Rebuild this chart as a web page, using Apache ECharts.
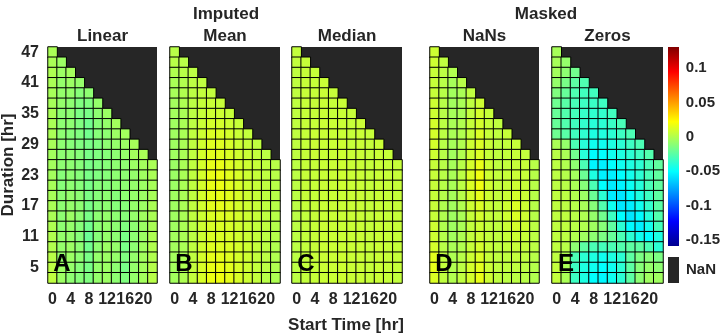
<!DOCTYPE html>
<html>
<head>
<meta charset="utf-8">
<script src="https://cdn.jsdelivr.net/npm/echarts@6/dist/echarts.min.js"></script>
<style>
  html, body { margin: 0; padding: 0; background: #fff; }
  #chart { width: 723px; height: 335px; }
</style>
</head>
<body>
<div id="chart"></div>
<script>
// start time columns (hr) and duration rows (hr), bottom row first
const startTimes = ['0', '2', '4', '6', '8', '10', '12', '14', '16', '18', '20', '22']
const durations = ['3', '5', '7', '9', '11', '13', '15', '17', '19', '21', '23', '25',
  '27', '29', '31', '33', '35', '37', '39', '41', '43', '45', '47']
const colorbarTicks = [-0.15, -0.1, -0.05, 0, 0.05, 0.1]
const colorMin = -0.159
const colorMax = 0.131

// cell values, rows listed from top (duration 47) to bottom (duration 3),
// only the cells that exist (start + duration <= 48)
const linearVals = [
  [-0.002],
  [-0.002, -0.006],
  [-0.001, -0.006, -0.004],
  [-0.002, -0.008, -0.006, -0.008],
  [-0.003, -0.008, -0.008, -0.012, -0.010],
  [-0.003, -0.008, -0.010, -0.014, -0.014, -0.008],
  [-0.002, -0.010, -0.010, -0.015, -0.016, -0.010, -0.006],
  [-0.002, -0.010, -0.010, -0.014, -0.018, -0.012, -0.008, -0.004],
  [-0.002, -0.010, -0.012, -0.014, -0.018, -0.012, -0.010, -0.006, -0.004],
  [-0.003, -0.010, -0.012, -0.014, -0.016, -0.014, -0.010, -0.008, -0.006, -0.003],
  [-0.004, -0.010, -0.010, -0.012, -0.016, -0.014, -0.012, -0.010, -0.008, -0.004, -0.002],
  [-0.004, -0.010, -0.010, -0.012, -0.016, -0.014, -0.012, -0.010, -0.010, -0.006, -0.004, -0.002],
  [-0.004, -0.012, -0.010, -0.012, -0.016, -0.014, -0.012, -0.010, -0.010, -0.008, -0.005, -0.002],
  [-0.003, -0.012, -0.010, -0.012, -0.016, -0.012, -0.012, -0.010, -0.010, -0.008, -0.006, -0.003],
  [-0.003, -0.010, -0.008, -0.010, -0.015, -0.012, -0.010, -0.012, -0.010, -0.008, -0.006, -0.003],
  [-0.002, -0.010, -0.008, -0.010, -0.016, -0.012, -0.010, -0.012, -0.012, -0.008, -0.006, -0.002],
  [-0.002, -0.010, -0.006, -0.010, -0.016, -0.010, -0.008, -0.010, -0.012, -0.008, -0.005, -0.002],
  [-0.001, -0.010, -0.008, -0.012, -0.018, -0.010, -0.008, -0.010, -0.014, -0.010, -0.006, -0.002],
  [0.000, -0.008, -0.008, -0.012, -0.020, -0.012, -0.008, -0.010, -0.016, -0.010, -0.006, -0.001],
  [0.000, -0.008, -0.006, -0.010, -0.018, -0.010, -0.006, -0.008, -0.016, -0.010, -0.005, 0.000],
  [0.002, -0.008, -0.006, -0.010, -0.016, -0.008, -0.006, -0.008, -0.014, -0.008, -0.004, 0.000],
  [0.003, -0.006, -0.008, -0.012, -0.016, -0.008, -0.006, -0.010, -0.016, -0.008, -0.004, 0.001],
  [0.004, -0.006, -0.010, -0.012, -0.014, -0.008, -0.006, -0.010, -0.014, -0.008, -0.004, 0.002]
]

const meanVals = [
  [0.002],
  [0.002, 0.002],
  [0.000, 0.002, 0.003],
  [-0.002, 0.000, 0.003, 0.004],
  [-0.003, 0.000, 0.003, 0.005, 0.005],
  [-0.004, -0.001, 0.003, 0.006, 0.007, 0.006],
  [-0.004, -0.002, 0.003, 0.006, 0.008, 0.008, 0.006],
  [-0.005, -0.002, 0.003, 0.007, 0.010, 0.010, 0.008, 0.006],
  [-0.005, -0.002, 0.004, 0.008, 0.012, 0.012, 0.010, 0.007, 0.005],
  [-0.005, -0.002, 0.004, 0.009, 0.013, 0.013, 0.011, 0.008, 0.006, 0.004],
  [-0.005, -0.002, 0.004, 0.010, 0.014, 0.014, 0.012, 0.009, 0.007, 0.005, 0.003],
  [-0.006, -0.002, 0.004, 0.010, 0.015, 0.016, 0.013, 0.010, 0.008, 0.006, 0.004, 0.002],
  [-0.006, -0.002, 0.004, 0.010, 0.016, 0.017, 0.014, 0.011, 0.008, 0.006, 0.004, 0.002],
  [-0.006, -0.002, 0.004, 0.010, 0.016, 0.017, 0.014, 0.011, 0.008, 0.006, 0.004, 0.002],
  [-0.005, -0.002, 0.004, 0.010, 0.015, 0.016, 0.014, 0.011, 0.008, 0.006, 0.004, 0.002],
  [-0.005, -0.002, 0.004, 0.009, 0.014, 0.015, 0.013, 0.010, 0.008, 0.006, 0.004, 0.002],
  [-0.005, -0.002, 0.004, 0.008, 0.012, 0.013, 0.012, 0.010, 0.008, 0.006, 0.004, 0.002],
  [-0.005, -0.002, 0.003, 0.008, 0.011, 0.012, 0.011, 0.009, 0.007, 0.005, 0.004, 0.001],
  [-0.004, -0.002, 0.003, 0.008, 0.012, 0.012, 0.011, 0.009, 0.007, 0.005, 0.003, 0.001],
  [-0.004, -0.002, 0.004, 0.009, 0.013, 0.013, 0.012, 0.010, 0.008, 0.005, 0.003, 0.000],
  [-0.004, -0.002, 0.004, 0.010, 0.015, 0.015, 0.013, 0.010, 0.008, 0.005, 0.003, 0.000],
  [-0.004, -0.001, 0.005, 0.011, 0.016, 0.017, 0.014, 0.011, 0.008, 0.005, 0.003, 0.000],
  [-0.004, -0.001, 0.005, 0.011, 0.017, 0.018, 0.015, 0.011, 0.008, 0.005, 0.002, -0.001]
]

const medianVals = [
  [0.005],
  [0.005, 0.006],
  [0.004, 0.006, 0.006],
  [0.004, 0.006, 0.006, 0.007],
  [0.004, 0.006, 0.006, 0.007, 0.006],
  [0.004, 0.006, 0.006, 0.007, 0.006, 0.007],
  [0.004, 0.006, 0.006, 0.007, 0.006, 0.007, 0.006],
  [0.004, 0.006, 0.006, 0.007, 0.007, 0.007, 0.006, 0.007],
  [0.004, 0.006, 0.007, 0.007, 0.007, 0.007, 0.006, 0.007, 0.006],
  [0.004, 0.006, 0.007, 0.007, 0.007, 0.008, 0.006, 0.007, 0.006, 0.007],
  [0.004, 0.006, 0.007, 0.007, 0.007, 0.008, 0.007, 0.007, 0.006, 0.007, 0.006],
  [0.003, 0.006, 0.006, 0.007, 0.007, 0.008, 0.007, 0.007, 0.006, 0.007, 0.006, 0.006],
  [0.003, 0.006, 0.006, 0.007, 0.007, 0.008, 0.007, 0.007, 0.006, 0.007, 0.006, 0.006],
  [0.003, 0.006, 0.006, 0.007, 0.007, 0.008, 0.007, 0.007, 0.006, 0.007, 0.006, 0.006],
  [0.003, 0.006, 0.006, 0.007, 0.007, 0.007, 0.007, 0.007, 0.006, 0.007, 0.006, 0.006],
  [0.003, 0.006, 0.006, 0.007, 0.007, 0.007, 0.007, 0.007, 0.006, 0.007, 0.006, 0.006],
  [0.003, 0.005, 0.006, 0.007, 0.007, 0.007, 0.007, 0.007, 0.006, 0.007, 0.006, 0.006],
  [0.003, 0.005, 0.006, 0.007, 0.007, 0.007, 0.007, 0.007, 0.006, 0.007, 0.006, 0.006],
  [0.003, 0.005, 0.006, 0.007, 0.007, 0.007, 0.007, 0.007, 0.006, 0.007, 0.006, 0.006],
  [0.003, 0.005, 0.006, 0.007, 0.007, 0.007, 0.007, 0.007, 0.006, 0.007, 0.006, 0.006],
  [0.003, 0.005, 0.006, 0.007, 0.007, 0.008, 0.007, 0.007, 0.006, 0.007, 0.006, 0.006],
  [0.003, 0.005, 0.006, 0.007, 0.007, 0.008, 0.007, 0.007, 0.006, 0.007, 0.006, 0.006],
  [0.003, 0.005, 0.006, 0.007, 0.007, 0.008, 0.007, 0.007, 0.006, 0.007, 0.006, 0.005]
]

const nansVals = [
  [0.008],
  [0.008, 0.004],
  [0.006, 0.003, 0.000],
  [0.006, 0.002, -0.003, 0.002],
  [0.006, 0.002, -0.004, -0.002, 0.004],
  [0.008, 0.002, -0.004, -0.002, 0.004, 0.008],
  [0.008, 0.002, -0.003, -0.002, 0.005, 0.010, 0.006],
  [0.010, 0.003, -0.002, 0.000, 0.006, 0.010, 0.006, 0.004],
  [0.010, 0.003, -0.002, 0.000, 0.006, 0.012, 0.006, 0.004, 0.006],
  [0.010, 0.002, -0.003, 0.000, 0.008, 0.012, 0.007, 0.004, 0.005, 0.006],
  [0.008, 0.002, -0.004, 0.000, 0.008, 0.012, 0.006, 0.004, 0.005, 0.006, 0.005],
  [0.006, 0.002, -0.003, 0.002, 0.010, 0.016, 0.008, 0.004, 0.005, 0.006, 0.006, 0.002],
  [0.006, 0.002, -0.002, 0.003, 0.012, 0.018, 0.008, 0.005, 0.006, 0.007, 0.006, 0.002],
  [0.006, 0.002, -0.002, 0.003, 0.012, 0.018, 0.009, 0.005, 0.006, 0.008, 0.006, 0.002],
  [0.006, 0.001, -0.003, 0.002, 0.010, 0.015, 0.008, 0.005, 0.007, 0.010, 0.007, 0.002],
  [0.006, 0.000, -0.004, 0.000, 0.008, 0.012, 0.007, 0.005, 0.008, 0.012, 0.008, 0.002],
  [0.006, 0.000, -0.005, -0.002, 0.006, 0.010, 0.006, 0.005, 0.008, 0.012, 0.008, 0.002],
  [0.008, 0.000, -0.005, -0.002, 0.005, 0.008, 0.005, 0.004, 0.007, 0.010, 0.008, 0.003],
  [0.008, 0.001, -0.004, -0.001, 0.005, 0.008, 0.005, 0.004, 0.006, 0.008, 0.006, 0.003],
  [0.010, 0.002, -0.002, 0.000, 0.006, 0.010, 0.006, 0.004, 0.005, 0.006, 0.005, 0.003],
  [0.014, 0.004, -0.001, 0.002, 0.008, 0.012, 0.006, 0.004, 0.004, 0.005, 0.004, 0.002],
  [0.015, 0.005, 0.000, 0.003, 0.010, 0.014, 0.007, 0.004, 0.004, 0.004, 0.003, 0.001],
  [0.012, 0.004, 0.000, 0.004, 0.010, 0.016, 0.008, 0.004, 0.003, 0.003, 0.002, 0.000]
]

const zerosVals = [
  [-0.003],
  [-0.003, -0.008],
  [-0.004, -0.010, -0.018],
  [-0.008, -0.016, -0.024, -0.028],
  [-0.014, -0.021, -0.028, -0.032, -0.032],
  [-0.019, -0.025, -0.030, -0.033, -0.034, -0.033],
  [-0.021, -0.027, -0.031, -0.035, -0.037, -0.036, -0.032],
  [-0.021, -0.027, -0.032, -0.036, -0.039, -0.038, -0.034, -0.030],
  [-0.019, -0.025, -0.032, -0.037, -0.042, -0.041, -0.038, -0.033, -0.029],
  [-0.002, -0.008, -0.029, -0.039, -0.046, -0.046, -0.042, -0.038, -0.033, -0.029],
  [0.002, -0.002, -0.018, -0.039, -0.051, -0.050, -0.046, -0.042, -0.038, -0.033, -0.027],
  [0.003, 0.000, -0.010, -0.029, -0.053, -0.054, -0.050, -0.046, -0.042, -0.038, -0.030, -0.023],
  [0.003, 0.001, -0.004, -0.020, -0.042, -0.054, -0.054, -0.050, -0.045, -0.038, -0.030, -0.023],
  [0.003, 0.002, -0.002, -0.012, -0.029, -0.050, -0.056, -0.053, -0.047, -0.040, -0.030, -0.023],
  [0.004, 0.003, 0.000, -0.006, -0.020, -0.038, -0.056, -0.057, -0.051, -0.042, -0.033, -0.024],
  [0.004, 0.003, 0.001, -0.003, -0.012, -0.027, -0.046, -0.057, -0.055, -0.046, -0.036, -0.025],
  [0.004, 0.004, 0.002, -0.001, -0.008, -0.018, -0.033, -0.050, -0.057, -0.051, -0.040, -0.027],
  [0.004, 0.004, 0.002, 0.000, -0.005, -0.012, -0.023, -0.038, -0.051, -0.054, -0.045, -0.031],
  [0.004, 0.003, 0.000, -0.005, -0.010, -0.015, -0.021, -0.029, -0.038, -0.046, -0.050, -0.042],
  [0.004, 0.002, -0.010, -0.024, -0.029, -0.031, -0.029, -0.027, -0.024, -0.024, -0.029, -0.038],
  [0.004, 0.000, -0.029, -0.038, -0.042, -0.046, -0.042, -0.038, -0.024, -0.015, -0.012, -0.015],
  [0.005, -0.002, -0.033, -0.042, -0.046, -0.050, -0.046, -0.038, -0.024, -0.012, -0.008, -0.010],
  [0.005, -0.002, -0.033, -0.042, -0.050, -0.052, -0.046, -0.038, -0.024, -0.010, -0.005, -0.005]
]

const panelNames = ['Linear', 'Mean', 'Median', 'NaNs', 'Zeros']
const panelLetters = ['A', 'B', 'C', 'D', 'E']
const panelValues = [linearVals, meanVals, medianVals, nansVals, zerosVals]

const jet = ['#00008F', '#0000FF', '#0080FF', '#00FFFF', '#80FF80', '#FFFF00', '#FF8000', '#FF0000', '#800000']

const panelLeft = [48, 170, 292, 430, 552]
const panelWidth = [109, 110, 110, 109, 111]
const panelTop = 47
const panelHeight = 236
const font = '"Liberation Sans", Arial, sans-serif'
const textColor = '#262626'

function toCells(rows) {
  const out = []
  const n = rows.length
  rows.forEach((row, i) => {
    row.forEach((v, j) => {
      out.push([j, n - 1 - i, v])
    })
  })
  return out
}

const grids = []
const xAxes = []
const yAxes = []
const series = []
const graphics = []

panelNames.forEach((name, k) => {
  grids.push({
    left: panelLeft[k], top: panelTop, width: panelWidth[k], height: panelHeight,
    show: true, backgroundColor: '#262626', borderWidth: 0
  })
  xAxes.push({
    type: 'category', gridIndex: k, data: startTimes,
    axisLine: { show: false }, axisTick: { show: false }, splitLine: { show: false },
    axisLabel: {
      interval: 1, margin: 9, color: textColor,
      fontFamily: font, fontWeight: 'bold', fontSize: 16
    }
  })
  yAxes.push({
    type: 'category', gridIndex: k, data: durations,
    axisLine: { show: false }, axisTick: { show: false }, splitLine: { show: false },
    axisLabel: {
      show: k === 0,
      interval: (idx) => (idx - 1) % 3 === 0,
      margin: 9, color: textColor,
      fontFamily: font, fontWeight: 'bold', fontSize: 16
    }
  })
  series.push({
    type: 'heatmap', xAxisIndex: k, yAxisIndex: k,
    data: toCells(panelValues[k]),
    itemStyle: { borderColor: '#000', borderWidth: 1 },
    emphasis: { disabled: true }
  })
  graphics.push({
    type: 'text', x: panelLeft[k] + panelWidth[k] / 2, y: 36,
    style: {
      text: name, x: 0, y: 0, align: 'center', verticalAlign: 'middle',
      font: 'bold 17px ' + font, fill: textColor
    }
  })
  graphics.push({
    type: 'text', x: panelLeft[k] + 14, y: 264, z: 10,
    style: {
      text: panelLetters[k], align: 'center', verticalAlign: 'middle',
      font: 'bold 24px ' + font, fill: '#000'
    }
  })
})

// colorbar axis (labels only)
grids.push({ left: 668, top: 47, width: 11, height: 199, show: false })
xAxes.push({ type: 'value', gridIndex: 5, show: false })
yAxes.push({
  type: 'value', gridIndex: 5, min: colorMin, max: colorMax, position: 'right',
  axisLine: { show: false }, axisTick: { show: false }, splitLine: { show: false },
  axisLabel: {
    customValues: colorbarTicks, margin: 7, color: textColor,
    fontFamily: font, fontWeight: 'bold', fontSize: 15,
    formatter: (v) => String(Math.round(v * 100) / 100)
  }
})

graphics.push(
  {
    type: 'rect', shape: { x: 668, y: 47, width: 11, height: 199 },
    style: {
      fill: new echarts.graphic.LinearGradient(0, 1, 0, 0,
        jet.map((c, i) => ({ offset: i / (jet.length - 1), color: c })))
    }
  },
  { type: 'rect', shape: { x: 668, y: 257, width: 11, height: 26 }, style: { fill: '#262626' } },
  {
    type: 'text', x: 686, y: 270,
    style: { text: 'NaN', verticalAlign: 'middle', font: 'bold 15px ' + font, fill: textColor }
  },
  {
    type: 'text', x: 226, y: 14,
    style: { text: 'Imputed', align: 'center', verticalAlign: 'middle', font: 'bold 17px ' + font, fill: textColor }
  },
  {
    type: 'text', x: 546, y: 14,
    style: { text: 'Masked', align: 'center', verticalAlign: 'middle', font: 'bold 17px ' + font, fill: textColor }
  },
  {
    type: 'text', x: 346, y: 325,
    style: { text: 'Start Time [hr]', align: 'center', verticalAlign: 'middle', font: 'bold 17px ' + font, fill: textColor }
  },
  {
    type: 'text', x: 8, y: 165, rotation: Math.PI / 2,
    style: { text: 'Duration [hr]', align: 'center', verticalAlign: 'middle', font: 'bold 17px ' + font, fill: textColor }
  }
)

const chart = echarts.init(document.getElementById('chart'), null, { renderer: 'canvas' })
chart.setOption({
  animation: false,
  backgroundColor: '#fff',
  grid: grids,
  xAxis: xAxes,
  yAxis: yAxes,
  visualMap: {
    show: false, type: 'continuous', min: colorMin, max: colorMax,
    seriesIndex: [0, 1, 2, 3, 4],
    inRange: { color: jet }
  },
  series: series,
  graphic: graphics
})
window.addEventListener('resize', () => chart.resize())
</script>
</body>
</html>
